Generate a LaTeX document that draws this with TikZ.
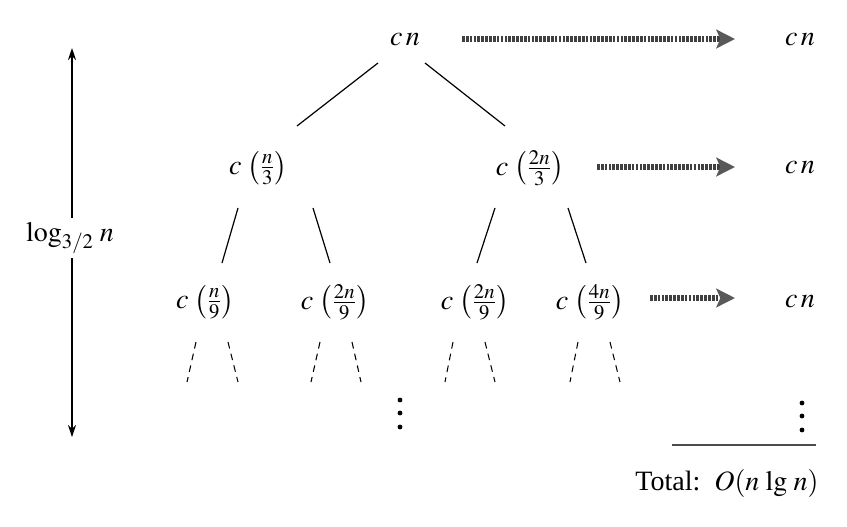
\documentclass[tikz,border=0pt]{standalone}
\usepackage{fontspec}
\usepackage{mathptmx}
\setmainfont{Liberation Serif}
\usetikzlibrary{arrows.meta}
\tikzset{
  lbl/.style={font=\fontsize{21}{25}\selectfont, inner sep=1pt},
  edge/.style={line width=0.9pt},
  dedge/.style={line width=0.8pt, dash pattern=on 5pt off 4pt},
  costarrow/.style={line width=4pt, draw=black!75, dash pattern=on 2pt off 0.9pt,
     -{Stealth[length=14pt,width=14pt,inset=3pt,color=black!65]}},
  dot/.style={fill=black},
}
\begin{document}
\begin{tikzpicture}[x=0.75pt,y=-0.75pt]
\useasboundingbox (0,0) rectangle (847,526);
% nodes
\node[lbl] (r) at (405,40) {$c\,n$};
\node[lbl] (a) at (258,168) {$c\,\left(\frac{n}{3}\right)$};
\node[lbl] (b) at (530,168) {$c\,\left(\frac{2n}{3}\right)$};
\node[lbl] (aa) at (205,302) {$c\,\left(\frac{n}{9}\right)$};
\node[lbl] (ab) at (335,302) {$c\,\left(\frac{2n}{9}\right)$};
\node[lbl] (ba) at (475,302) {$c\,\left(\frac{2n}{9}\right)$};
\node[lbl] (bb) at (590,302) {$c\,\left(\frac{4n}{9}\right)$};
\node[lbl] (c1) at (800,40) {$c\,n$};
\node[lbl] (c2) at (800,168) {$c\,n$};
\node[lbl] (c3) at (800,302) {$c\,n$};
\node[lbl] (tot) at (727,483) {Total:\, $O(n\,\lg\, n)$};
% vertical dots
\foreach \y in {400,413,427}{
  \fill[dot] (400,\y) circle (2.4);
  \fill[dot] (802,\y+3) circle (2.4);
}
% tree edges
\coordinate (r1) at (378,63); \coordinate (r2) at (425,63);
\coordinate (a0) at (297,126); \coordinate (b0) at (505,126);
\draw[edge] (r1) -- (a0);
\draw[edge] (r2) -- (b0);
\coordinate (a1) at (238,208); \coordinate (a1e) at (222,263);
\coordinate (a2) at (313,208); \coordinate (a2e) at (330,263);
\coordinate (b1) at (495,208); \coordinate (b1e) at (477,263);
\coordinate (b2) at (568,208); \coordinate (b2e) at (586,263);
\draw[edge] (a1) -- (a1e);
\draw[edge] (a2) -- (a2e);
\draw[edge] (b1) -- (b1e);
\draw[edge] (b2) -- (b2e);
% dashed edges
\foreach \xa/\xb/\xc/\xd in {196/187/228/238, 320/311/352/361, 453/445/485/495, 578/570/610/620}{
  \draw[dedge] (\xa,342) -- (\xb,382);
  \draw[dedge] (\xc,342) -- (\xd,382);
}
% cost arrows
\coordinate (s1) at (462,39); \coordinate (e1) at (735,39);
\coordinate (s2) at (597,167); \coordinate (e2) at (735,167);
\coordinate (s3) at (650,298); \coordinate (e3) at (735,298);
\draw[costarrow] (s1) -- (e1);
\draw[costarrow] (s2) -- (e2);
\draw[costarrow] (s3) -- (e3);
% total line
\coordinate (t1) at (672,445); \coordinate (t2) at (816,445);
\draw[line width=0.9pt, black!70] (t1) -- (t2);
% height arrow
\coordinate (h1) at (72,48); \coordinate (h2) at (72,437);
\draw[line width=0.9pt, {Stealth[length=9pt,width=6pt]}-{Stealth[length=9pt,width=6pt]}] (h1) -- (h2);
\node[lbl, fill=white, inner sep=3pt] (h) at (70,238) {$\log_{3/2}\, n$};
\end{tikzpicture}
\end{document}
